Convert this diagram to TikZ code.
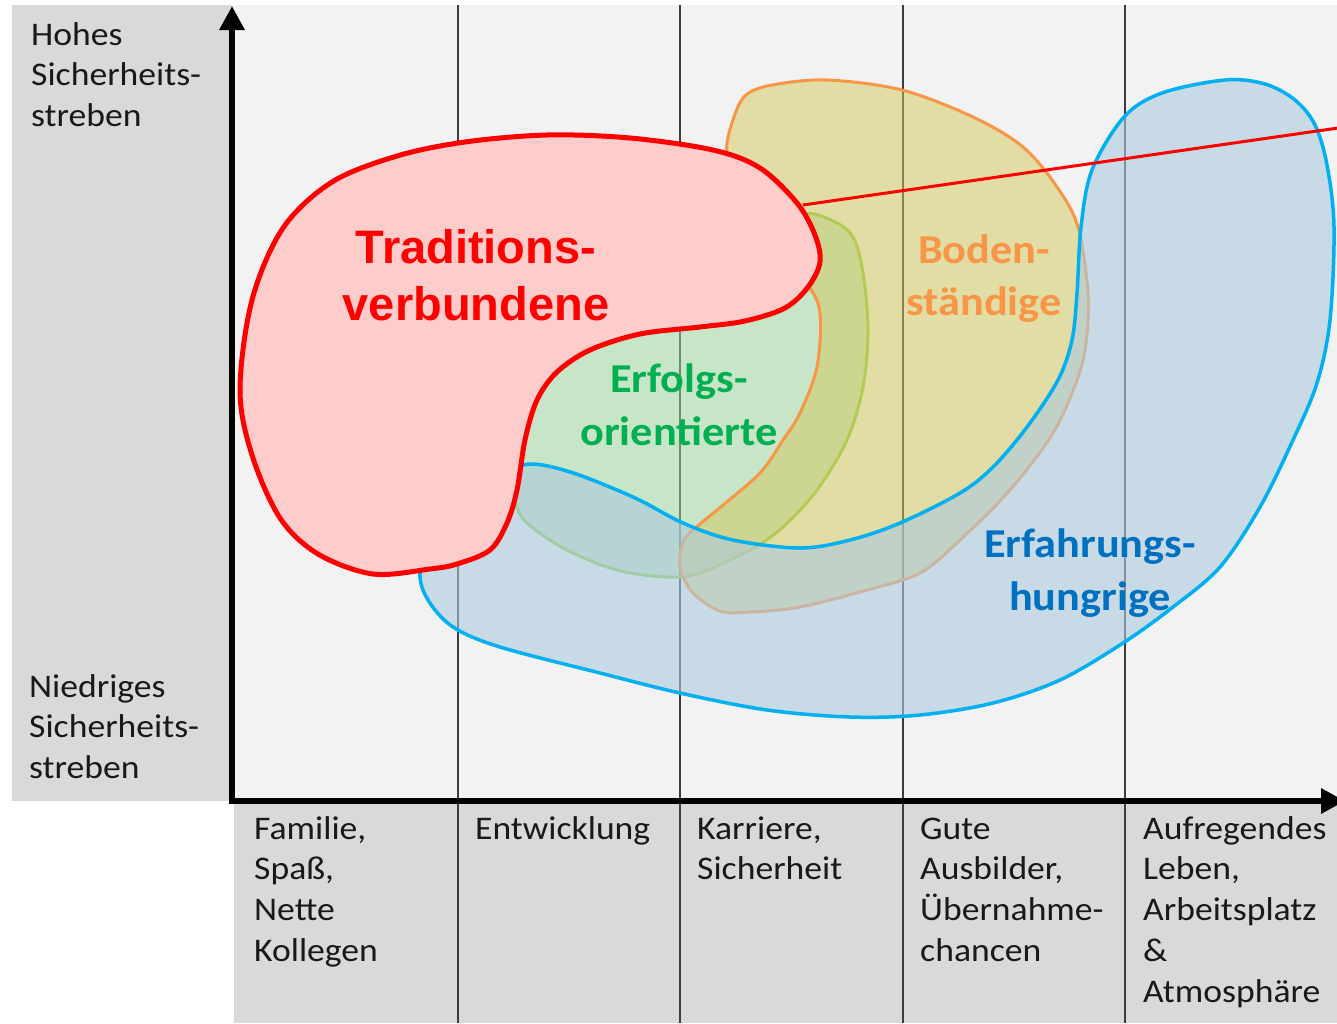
\documentclass[tikz,border=0pt]{standalone}
\usepackage{fontspec}
\setmainfont{Carlito}[FakeStretch=1.08]
\newfontfamily\arialfont{Liberation Sans}
\usetikzlibrary{arrows.meta}
\definecolor{panelgrey}{RGB}{217,217,217}
\definecolor{plotgrey}{RGB}{242,242,242}
\definecolor{gridcol}{RGB}{60,60,60}
\definecolor{tvred}{RGB}{255,0,0}
\definecolor{tvfill}{RGB}{255,204,204}
\definecolor{bsline}{RGB}{247,150,70}
\definecolor{bsfill}{RGB}{212,200,90}
\definecolor{eoline}{RGB}{146,208,80}
\definecolor{eofill}{RGB}{158,218,158}
\definecolor{ehline}{RGB}{0,176,240}
\definecolor{ehfill}{RGB}{172,202,222}
\definecolor{eotext}{RGB}{0,176,80}
\definecolor{ehtext}{RGB}{0,112,192}
\definecolor{bstext}{RGB}{247,150,70}
\definecolor{labeltext}{RGB}{25,25,25}
\newcommand{\leftlines}[1]{\vtop{\baselineskip=40.8pt\lineskiplimit=-100pt\halign{##\hfil\cr#1\crcr}}}
\newcommand{\midlines}[2]{\vtop{\baselineskip=#1\lineskiplimit=-100pt\halign{\hfil##\hfil\cr#2\crcr}}}
\tikzset{
  gridline/.style={draw=gridcol, line width=1.6pt},
  axisline/.style={line width=6pt, draw=black, -{Triangle[length=24pt,width=24pt]}},
  axislabel/.style={anchor=base west, inner sep=0pt, text=labeltext, font=\fontsize{33}{40.8}\selectfont},
  grouplabel/.style={anchor=base, inner sep=0pt, font=\fontsize{41}{53}\selectfont\bfseries},
  tvlabel/.style={anchor=base, inner sep=0pt, text=tvred, font=\arialfont\fontsize{47}{57}\selectfont\bfseries},
  tvshape/.style={draw=tvred, line width=5pt, fill=tvfill, line join=round},
  bsshape/.style={draw=bsline, line width=3pt, fill=bsfill, fill opacity=0.5},
  eoshape/.style={draw=eoline, line width=3pt, fill=eofill, fill opacity=0.5},
  ehshape/.style={draw=ehline, line width=3.5pt, fill=ehfill, fill opacity=0.6},
  connector/.style={draw=tvred, line width=3pt}
}
\begin{document}
\begin{tikzpicture}[x=1pt,y=-1pt]
\fill[white] (0,0) rectangle (1337,1023);
\useasboundingbox (0,0) rectangle (1337,1023);
% panels
\fill[panelgrey] (12,5) rectangle (232,801);
\fill[plotgrey] (232,5) rectangle (1337,801);
\fill[panelgrey] (234,801) rectangle (1337,1023);
% grid
\foreach \gx in {458,680,903,1125} \draw[gridline] (\gx,5) -- (\gx,1023);
% Erfolgsorientierte
\path[eoshape] plot[smooth cycle, tension=0.55] coordinates {
 (805,215) (833,221) (853,237) (863,273) (868,330) (863,387) (847,440) (817,490)
 (783,527) (750,550) (700,573) (667,577) (617,570) (567,550) (527,523) (515,500)
 (508,450) (525,385) (600,320) (720,300) (790,250)};
% Bodenstaendige
\path[bsshape] plot[smooth cycle, tension=0.55] coordinates {
 (727,152) (734,117) (746,95) (772,85) (827,80) (902,90) (973,117) (1023,147)
 (1057,187) (1078,227) (1088,293) (1086,343) (1077,380) (1053,433) (1010,490)
 (960,540) (920,573) (867,590) (800,607) (750,612) (720,611) (693,593) (680,567)
 (684,540) (700,524) (717,510) (760,473) (783,440) (800,413) (817,367) (820,313)
 (808,285) (780,250) (745,190)};
% Erfahrungshungrige
\path[ehshape] plot[smooth cycle, tension=0.55] coordinates {
 (523,465) (567,471) (633,497) (683,523) (733,540) (800,548) (850,540) (900,523)
 (960,493) (993,467) (1027,427) (1058,380) (1072,340) (1077,293) (1081,227)
 (1092,170) (1124,117) (1162,93) (1225,80) (1265,84) (1295,100) (1315,125)
 (1327,165) (1334,227) (1330,320) (1317,383) (1293,440) (1260,507) (1220,567)
 (1173,607) (1123,643) (1060,680) (993,703) (920,715) (850,717) (767,710)
 (680,693) (600,673) (500,647) (453,627) (428,600) (420,573) (432,540) (490,490)};
% Traditionsverbundene
\path[tvshape] plot[smooth cycle, tension=0.55] coordinates {
 (240,390) (252,300) (283,228) (332,182) (397,156) (465,142) (547,135) (630,138)
 (713,150) (760,168) (797,203) (815,235) (820,262) (808,287) (785,308) (745,321)
 (700,327) (640,334) (590,350) (557,372) (537,400) (525,440) (517,490) (507,523)
 (490,550) (457,564) (430,569) (373,574) (318,554) (280,518) (252,455)};
% connector
\coordinate (tvanchor) at (803,205);
\coordinate (tvend) at (1345,127);
\draw[connector] (tvanchor) -- (tvend);
% axes
\draw[axisline] (232,804) -- (232,6);
\draw[axisline] (229,801) -- (1345,801);
% labels
\node[tvlabel] (tvtext) at (476,263) {\midlines{57pt}{Traditions-\cr verbundene}};
\node[grouplabel, text=bstext] (bstext) at (984,263) {\midlines{52pt}{Boden-\cr ständige}};
\node[grouplabel, text=eotext] (eotext) at (679,392) {\midlines{53pt}{Erfolgs-\cr orientierte}};
\node[grouplabel, text=ehtext] (ehtext) at (1090,557) {\midlines{53pt}{Erfahrungs-\cr hungrige}};
\node[axislabel] (hohes) at (31,45) {\leftlines{Hohes\cr Sicherheits-\cr streben}};
\node[axislabel] (niedrig) at (29,697) {\leftlines{Niedriges\cr Sicherheits-\cr streben}};
\node[axislabel] (fam) at (254,839) {\leftlines{Familie,\cr Spaß,\cr Nette\cr Kollegen}};
\node[axislabel] (entw) at (475,839) {\leftlines{Entwicklung}};
\node[axislabel] (karr) at (697,839) {\leftlines{Karriere,\cr Sicherheit}};
\node[axislabel] (gute) at (920,839) {\leftlines{Gute\cr Ausbilder,\cr Übernahme-\cr chancen}};
\node[axislabel] (aufr) at (1143,839) {\leftlines{Aufregendes\cr Leben,\cr Arbeitsplatz\cr \&\cr Atmosphäre}};
\end{tikzpicture}
\end{document}
